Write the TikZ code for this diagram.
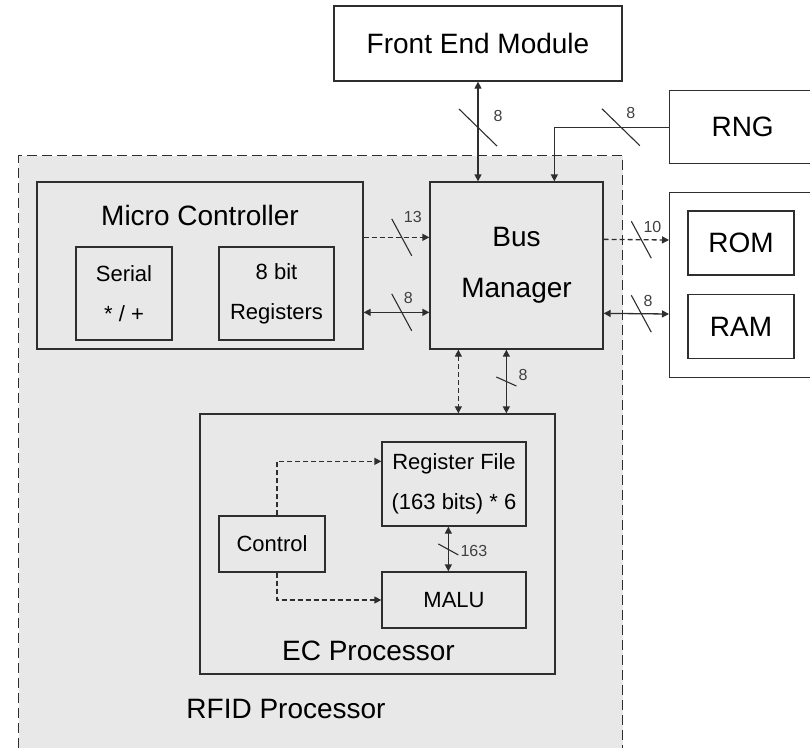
\documentclass[tikz,border=0pt]{standalone}
\usepackage{fontspec}
\setmainfont{Liberation Sans}
\usetikzlibrary{calc,arrows.meta}
\definecolor{rfidgray}{HTML}{E8E8E8}
\definecolor{linegray}{HTML}{2E2E2E}
\def\busmark(#1)(#2:#3){\draw[line width=1.1pt, color=linegray] ($(#1)+(-#2,-#3)$) -- ($(#1)+(#2,#3)$);}
\tikzset{
  blk/.style={draw=linegray, line width=1.3pt, inner sep=0pt},
  bigtxt/.style={font=\fontsize{28}{51}\selectfont},
  smalltxt/.style={font=\fontsize{22}{40}\selectfont},
  numtxt/.style={font=\fontsize{16}{16}\selectfont, inner sep=0pt, color=black!75},
  arr/.style={line width=1.3pt, color=linegray, -{Triangle[length=7pt,width=7pt]}},
  dbl/.style={line width=1.3pt, color=linegray, {Triangle[length=7pt,width=7pt]}-{Triangle[length=7pt,width=7pt]}},
  dsh/.style={dash pattern=on 5pt off 3pt},
}

\begin{document}
\begin{tikzpicture}[x=1pt,y=-1pt]
	\useasboundingbox (0,0) rectangle (810,747);
	
	% rfid processor area
	\node[blk, fill=rfidgray, dash pattern=on 10pt off 5pt, minimum width=604, minimum height=610, anchor=north west] (rfid) at (18,155) {};
	\node[bigtxt, anchor=base] (rfidlbl) at (286,718) {RFID Processor};
	
	% outside blocks
	\node[blk, fill=white, bigtxt, minimum width=288, minimum height=75] (fem) at (478,43.5) {Front End Module};
	\node[blk, fill=white, bigtxt, minimum width=146, minimum height=73, anchor=north west] (rng) at (669,90) {RNG};
	\node[blk, fill=white, minimum width=146, minimum height=185, anchor=north west] (mem) at (669,192) {};
	\node[blk, bigtxt, minimum width=106, minimum height=64] (rom) at (741,243) {ROM};
	\node[blk, bigtxt, minimum width=106, minimum height=64] (ram) at (741,326.5) {RAM};
	
	% micro controller
	\node[blk, minimum width=326, minimum height=167] (mc) at (200,265.5) {};
	\node[bigtxt, anchor=base] (mclbl) at (200,225) {Micro Controller};
	\node[blk, smalltxt, align=center, minimum width=96, minimum height=93] (serial) at (124,293.5) {Serial\\* / +};
	\node[blk, smalltxt, align=center, minimum width=115, minimum height=93] (regs) at (276.5,293.5) {8 bit\\Registers};
	
	% bus manager
	\node[blk, bigtxt, align=center, minimum width=173, minimum height=167] (bm) at (516.5,265.5) {Bus\\Manager};
	
	% ec processor
	\node[blk, minimum width=355, minimum height=260] (ec) at (377.5,544) {};
	\node[bigtxt, anchor=base] (eclbl) at (368.5,660) {EC Processor};
	\node[blk, smalltxt, align=center, minimum width=144, minimum height=84] (rf) at (454,484) {Register File\\(163 bits) * 6};
	\node[blk, smalltxt, minimum width=106, minimum height=56] (ctrl) at (272,544) {Control};
	\node[blk, smalltxt, minimum width=144, minimum height=56] (malu) at (454,600) {MALU};
	
	% front end and rng
	\draw[dbl] (fem.south) -- coordinate[pos=0.46] (febus) (fem.south |- bm.north);
	\busmark(febus)(19:18.5)
	\node[numtxt] (fe8) at ($(febus)+(20,-11.5)$) {8};
	\coordinate (rngbend) at ($(bm.north west)+(125,0)$);
	\draw[arr] (rng.west) -| coordinate[pos=0.21] (rngbus) (rngbend);
	\busmark(rngbus)(19:18.5)
	\node[numtxt] (rng8) at ($(rngbus)+(10,-14.5)$) {8};
	
	% micro controller to bus manager
	\draw[arr, dsh] ($(mc.north east)+(0,56)$) -- coordinate[pos=0.58] (mcbus1) ($(bm.north west)+(0,56)$);
	\busmark(mcbus1)(10:18.5)
	\node[numtxt, anchor=west] (mc13) at ($(mcbus1)+(2,-20)$) {13};
	\draw[dbl] ($(mc.north east)+(0,131)$) -- coordinate[pos=0.58] (mcbus2) ($(bm.north west)+(0,131)$);
	\busmark(mcbus2)(10:18.5)
	\node[numtxt, anchor=west] (mc8) at ($(mcbus2)+(2,-14)$) {8};
	
	% bus manager to memories
	\draw[arr, dsh] ($(bm.north east)+(0,58)$) -- coordinate[pos=0.576] (membus1) ($(mem.north west)+(0,48)$);
	\busmark(membus1)(10:18.5)
	\node[numtxt, anchor=west] (mem10) at ($(membus1)+(2,-13)$) {10};
	\draw[dbl] ($(bm.north east)+(0,132)$) -- coordinate[pos=0.576] (membus2) ($(mem.north west)+(0,122)$);
	\busmark(membus2)(10:18.5)
	\node[numtxt, anchor=west] (mem8) at ($(membus2)+(2,-13)$) {8};
	
	% bus manager to ec processor
	\draw[dbl, dsh] ($(bm.south west)+(29,0)$) -- ($(ec.north west)+(259,0)$);
	\draw[dbl] ($(bm.south west)+(77,0)$) -- coordinate[pos=0.5] (ecbus) ($(ec.north west)+(307,0)$);
	\busmark(ecbus)(10:4.5)
	\node[numtxt, anchor=west] (ec8) at ($(ecbus)+(12,-7)$) {8};
	
	% inside ec processor
	\draw[arr, dsh] ($(ctrl.north)+(5,0)$) |- ($(rf.north west)+(0,20)$);
	\draw[arr, dsh] ($(ctrl.south)+(5,0)$) |- (malu.west);
	\draw[dbl] ($(rf.south west)+(67,0)$) -- coordinate[pos=0.51] (rfbus) ($(malu.north west)+(67,0)$);
	\busmark(rfbus)(10:5.5)
	\node[numtxt, anchor=west] (rf163) at ($(rfbus)+(12,1.5)$) {163};
	
\end{tikzpicture}
\end{document}
